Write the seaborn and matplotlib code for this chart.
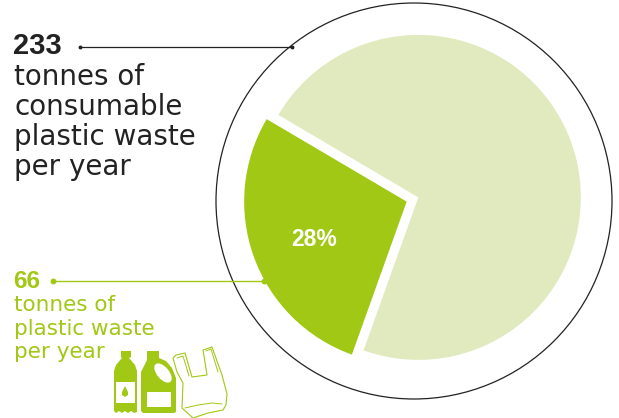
import matplotlib
matplotlib.use("Agg")
import matplotlib.pyplot as plt
from matplotlib.patches import Circle, Polygon, Ellipse, Rectangle
import seaborn as sns

W, H = 619, 418
shares = [28, 72]
total_label = "233"
total_lines = ["tonnes of", "consumable", "plastic waste", "per year"]
share_label = "66"
share_lines = ["tonnes of", "plastic waste", "per year"]

GREEN = "#A0C814"
PALE = "#E1EABF"
INK = "#222222"

sns.set_theme(style="white")
plt.rcParams["font.family"] = ["DejaVu Sans"]

fig = plt.figure(figsize=(W / 100, H / 100), dpi=100)
ax = fig.add_axes([0, 0, 1, 1])


def py(y):
    """Top-down pixel row to axis y."""
    return H - y


def outline(points, **kw):
    """Closed polygon through the outline points with rounded joins."""
    return Polygon([(x, py(y)) for x, y in points], closed=True, joinstyle="round", **kw)


# Pie with the two slices pulled apart; explode is in axis units here
wedges, _, autotexts = ax.pie(
    shares,
    colors=[GREEN, PALE],
    startangle=149.5,
    radius=162.5,
    center=(412.5, py(199.5)),
    explode=[6.2, 6.2],
    autopct=lambda p: f"{p:.0f}%" if p < 50 else "",
    pctdistance=0.62,
    wedgeprops={"linewidth": 0},
    textprops={"color": "white", "fontsize": 16.5, "fontweight": "bold",
               "family": "Liberation Sans"},
)
autotexts[0].set_position((314, py(240)))

# Enclosing ring
ax.add_patch(Circle((414, py(201)), 198, fill=False, ec=INK, lw=0.9, zorder=3))

# Leader lines
ax.plot([80, 292], [py(47), py(47)], color=INK, lw=0.9, zorder=4)
ax.plot([80, 292], [py(47), py(47)], ls="", marker="o", ms=1.8, color=INK, zorder=4)
ax.plot([52, 265], [py(280.5), py(280.5)], color=GREEN, lw=1.0, zorder=4)
ax.plot([53, 264], [py(280.5), py(280.5)], ls="", marker="o", ms=3.2, color=GREEN, zorder=4)

# Headline block
ax.text(13, py(46), total_label, fontsize=21, fontweight="bold", color=INK, va="center",
        family="Liberation Sans")
for row, line in zip([77, 107, 137, 167], total_lines):
    ax.text(14, py(row), line, fontsize=20, color=INK, va="center")

# Plastic waste block
ax.text(13, py(281), share_label, fontsize=17.5, fontweight="bold", color=GREEN, va="center",
        family="Liberation Sans")
for row, line in zip([305, 329, 352], share_lines):
    ax.text(14, py(row), line, fontsize=15.5, color=GREEN, va="center")

# Water bottle icon
ax.add_patch(outline(
    [(121, 351), (131, 351), (131, 357), (129, 358), (135, 365), (137, 371), (137, 412),
     (134, 413), (131, 411), (128, 413), (125, 411), (122, 413), (119, 411), (116, 413),
     (114, 411), (114, 371), (116, 365), (122, 358), (121, 357)],
    fc=GREEN, ec="none", zorder=4))
ax.add_patch(Rectangle((116, py(403)), 19, 21, fc="white", ec="none", zorder=5))
ax.add_patch(outline([(125, 386), (128, 392), (128, 395), (125, 397), (122, 395), (122, 392)],
                     fc=GREEN, ec="none", zorder=6))

# Detergent bottle icon
ax.add_patch(outline(
    [(147, 351), (159, 351), (159, 358), (166, 361), (172, 368), (176, 378), (176, 412),
     (174, 413), (143, 413), (141, 411), (141, 372), (145, 364), (147, 360)],
    fc=GREEN, ec="none", zorder=4))
ax.add_patch(Ellipse((163, py(373)), 12, 23, angle=40, fc="white", ec="none", zorder=5))
ax.add_patch(Rectangle((147, py(407)), 24, 15, fc="white", ec="none", zorder=5))

# Carrier bag icon, outline only
bag = [(173, 358), (176, 355), (185, 353), (192, 377), (207, 375), (203, 350), (212, 347),
       (222, 375), (227, 394), (226, 405), (223, 410), (208, 413), (193, 418), (182, 408),
       (183, 383), (177, 372)]
ax.add_patch(outline(bag, fc="white", ec=GREEN, lw=0.8, zorder=3))
crease = [(185, 408), (198, 405), (212, 403), (222, 404)]
handle = [(177, 358), (183, 356), (189, 376)]
handle2 = [(206, 351), (211, 349), (218, 372)]
for stroke in (crease, handle, handle2):
    ax.plot([p[0] for p in stroke], [py(p[1]) for p in stroke], color=GREEN, lw=0.7, zorder=3.5)

ax.set_xlim(0, W)
ax.set_ylim(0, H)
ax.set_aspect("equal")
ax.axis("off")

fig.savefig("out.png", dpi=100, facecolor="white")
